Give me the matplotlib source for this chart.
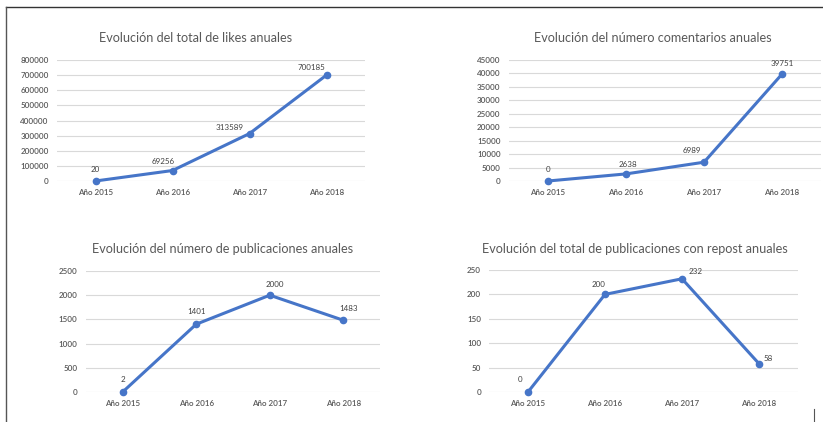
import matplotlib
matplotlib.use("Agg")
import matplotlib.pyplot as plt
from matplotlib.lines import Line2D

plt.rcParams['font.family'] = ['Lato', 'DejaVu Sans']

# data
years = ['Año 2015', 'Año 2016', 'Año 2017', 'Año 2018']
likes = [20, 69256, 313589, 700185]
comentarios = [0, 2638, 6989, 39751]
publicaciones = [2, 1401, 2000, 1483]
reposts = [0, 200, 232, 58]

titles = ['Evolución del total de likes anuales',
          'Evolución del número comentarios anuales',
          'Evolución del número de publicaciones anuales',
          'Evolución del total de publicaciones con repost anuales']

# y-axis tick values
likes_ticks = list(range(0, 800001, 100000))
comentarios_ticks = list(range(0, 45001, 5000))
publicaciones_ticks = list(range(0, 2501, 500))
reposts_ticks = list(range(0, 251, 50))

W, H = 823, 422
BLUE = '#4675C8'
GREY = '#595959'
GRID = '#D9D9D9'


def px_box(x0, x1, y_top, y_bot):
    return [x0 / W, 1 - y_bot / H, (x1 - x0) / W, (y_bot - y_top) / H]


panels = [
    # axes box in pixels, title centre, values, ticks, label offsets (px)
    (px_box(57, 365, 60, 181), (196, 38), likes, likes_ticks,
     [(0, 8), (-9, 6), (-20, 3), (-15, 4)]),
    (px_box(509, 821, 60, 181), (653, 38), comentarios, comentarios_ticks,
     [(0, 8), (2, 6), (-12, 8), (0, 7)]),
    (px_box(86, 380, 271, 392), (223, 249), publicaciones, publicaciones_ticks,
     [(0, 9), (0, 9), (5, 7), (5, 8)]),
    (px_box(489.5, 797.5, 270, 392), (635, 249), reposts, reposts_ticks,
     [(-8, 9), (-6, 6), (14, 4), (9, 2)]),
]

fig = plt.figure(figsize=(W / 100, H / 100), dpi=100)

for (box, tpos, vals, ticks, offs), title in zip(panels, titles):
    ax = fig.add_axes(box)
    x = list(range(len(years)))
    ax.plot(x, vals, color=BLUE, lw=2.2, marker='o', ms=4.5, zorder=3,
            clip_on=False)
    for xi, v, (dx, dy) in zip(x, vals, offs):
        ax.annotate(str(v), (xi, v), xytext=(dx, dy), textcoords='offset pixels',
                    ha='center', va='bottom', fontsize=5.8, color='#404040')
    ax.set_xlim(-0.5, len(years) - 0.5)
    ax.set_ylim(ticks[0], ticks[-1])
    ax.set_yticks(ticks)
    ax.set_xticks(x)
    ax.set_xticklabels(years)
    ax.grid(axis='y', color=GRID, lw=0.8)
    ax.set_axisbelow(True)
    for s in ax.spines.values():
        s.set_visible(False)
    ax.tick_params(length=0, labelsize=5.8, labelcolor=GREY, pad=6)
    for lab in ax.get_xticklabels() + ax.get_yticklabels():
        lab.set_fontweight('semibold')
    ax.set_facecolor('none')
    fig.text(tpos[0] / W, 1 - tpos[1] / H, title, ha='center', va='center',
             fontsize=9.1, color=GREY)

# page borders from the screenshot
fig.add_artist(Line2D([6 / W, 1], [1 - 7 / H, 1 - 7 / H], color='#333333', lw=1.0))
fig.add_artist(Line2D([6 / W, 6 / W], [0, 1 - 7 / H], color='#555555', lw=1.0))
fig.add_artist(Line2D([814 / W, 814 / W], [0, 1 - 409 / H], color='#555555', lw=0.8))

fig.savefig('out.png', dpi=100)
